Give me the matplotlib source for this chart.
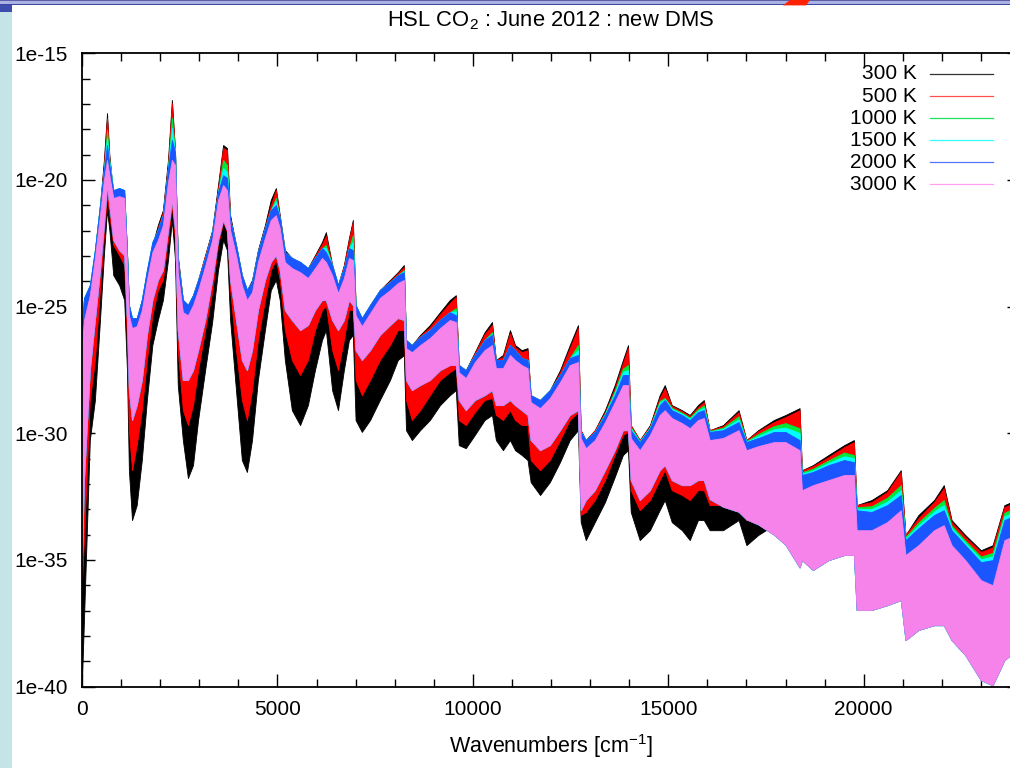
import numpy as np
import matplotlib
matplotlib.use("Agg")
import matplotlib.pyplot as plt
from matplotlib.ticker import FixedLocator, FuncFormatter, MultipleLocator, NullFormatter
from matplotlib.patches import Rectangle, Polygon
from matplotlib.lines import Line2D

plt.rcParams['font.family'] = ['Liberation Sans', 'DejaVu Sans']
plt.rcParams['mathtext.fontset'] = 'custom'
plt.rcParams['mathtext.rm'] = 'Liberation Sans'
plt.rcParams['mathtext.it'] = 'Liberation Sans:italic'
plt.rcParams['mathtext.bf'] = 'Liberation Sans:bold'

# ---------------- data (log10 of intensity envelopes) ----------------
wavenumber = [0, 50, 200, 330, 460, 560, 640, 700, 800, 950, 1080, 1150, 1200, 1280, 1400, 1530, 1660, 1800,
              1940, 2070, 2200, 2300, 2380, 2450, 2580, 2710, 2840, 2970, 3150, 3330, 3480, 3610, 3710, 3790,
              3940, 4090, 4220, 4350, 4500, 4680, 4830, 4960, 5060, 5190, 5370, 5580, 5780, 5960, 6140, 6240,
              6400, 6550, 6700, 6830, 6930, 7000, 7160, 7370, 7620, 7880, 8080, 8235, 8290, 8440, 8650, 8900,
              9160, 9410, 9565, 9640, 9820, 10050, 10300, 10490, 10590, 10770, 10950, 11080, 11250, 11400,
              11480, 11720, 11970, 12230, 12480, 12690, 12760, 12890, 13120, 13380, 13630, 13840, 13970, 14040,
              14270, 14530, 14780, 14910, 15090, 15350, 15550, 15760, 15910, 16060, 16400, 16800, 17000, 17300,
              17700, 18000, 18360, 18420, 18700, 19100, 19500, 19750, 19820, 20200, 20600, 20950, 21070, 21400,
              21800, 22050, 22250, 22600, 23000, 23300, 23600, 23900]

black_hi = [-25.93, -24.74, -24.35, -22.77, -20.99, -19.21, -17.36, -19.02, -20.60, -20.50, -20.55, -22.77, -24.94,
            -25.53, -25.53, -24.74, -23.64, -22.57, -21.78, -21.19, -19.21, -16.84, -18.82, -22.97, -24.74, -24.94,
            -24.55, -23.95, -22.97, -21.98, -20.20, -18.62, -18.74, -21.39, -22.57, -23.76, -24.35, -23.95, -22.77,
            -21.78, -20.79, -20.32, -21.39, -22.77, -23.08, -23.24, -23.48, -22.97, -22.45, -22.06, -23.36, -24.15,
            -23.36, -22.29, -21.58, -24.94, -25.53, -24.94, -24.35, -23.95, -23.64, -23.36, -26.32, -26.52, -26.12,
            -25.73, -25.22, -24.74, -24.55, -27.31, -27.51, -26.80, -26.01, -25.61, -27.11, -26.91, -25.93, -26.52,
            -26.72, -26.64, -28.50, -28.69, -28.30, -27.51, -26.52, -25.73, -29.88, -30.27, -29.88, -29.09, -28.10,
            -27.11, -26.52, -29.68, -30.27, -29.68, -28.50, -28.10, -28.89, -29.09, -29.28, -28.89, -28.69, -29.88,
            -29.68, -29.09, -30.27, -29.88, -29.48, -29.28, -29.01, -31.46, -31.26, -30.86, -30.47, -30.27, -32.84,
            -32.64, -32.25, -31.46, -34.02, -33.23, -32.64, -32.05, -33.43, -34.02, -34.62, -34.42, -32.84, -32.64]

red_hi = [-26.12, -24.82, -24.43, -22.85, -21.07, -19.41, -17.55, -19.13, -20.55, -20.45, -20.50, -22.85, -24.94,
          -25.53, -25.53, -24.74, -23.64, -22.57, -21.90, -21.27, -19.41, -16.96, -18.90, -23.08, -24.74, -24.94,
          -24.55, -23.95, -22.97, -22.06, -20.32, -18.74, -18.82, -21.50, -22.57, -23.76, -24.35, -24.03, -22.85,
          -21.86, -20.99, -20.40, -21.46, -22.85, -23.08, -23.24, -23.48, -23.01, -22.53, -22.21, -23.36, -24.15,
          -23.40, -22.37, -21.66, -24.94, -25.53, -24.94, -24.35, -23.99, -23.68, -23.44, -26.32, -26.52, -26.16,
          -25.81, -25.30, -24.86, -24.62, -27.31, -27.51, -26.84, -26.09, -25.73, -27.11, -26.99, -26.05, -26.60,
          -26.80, -26.72, -28.50, -28.69, -28.34, -27.59, -26.64, -25.85, -29.88, -30.27, -29.88, -29.17, -28.22,
          -27.23, -26.64, -29.68, -30.27, -29.72, -28.61, -28.22, -28.93, -29.13, -29.32, -28.97, -28.77, -29.88,
          -29.72, -29.17, -30.27, -29.92, -29.56, -29.36, -29.09, -31.46, -31.30, -30.94, -30.55, -30.35, -32.84,
          -32.72, -32.32, -31.53, -34.02, -33.35, -32.72, -32.17, -33.51, -34.10, -34.69, -34.50, -32.92, -32.72]

green_hi = [-25.73, -24.66, -24.15, -22.77, -20.99, -19.61, -18.03, -19.21, -20.40, -20.32, -20.40, -22.85, -24.94,
            -25.45, -25.45, -24.74, -23.56, -22.45, -21.98, -21.39, -19.53, -17.55, -18.90, -23.16, -24.74, -24.94,
            -24.55, -23.95, -23.08, -22.06, -20.48, -19.21, -19.41, -21.58, -22.57, -23.76, -24.35, -24.03, -22.85,
            -21.90, -21.19, -20.71, -21.50, -22.85, -23.08, -23.24, -23.48, -23.08, -22.69, -22.57, -23.36, -24.15,
            -23.48, -22.69, -22.18, -24.94, -25.45, -24.94, -24.35, -24.03, -23.76, -23.56, -26.32, -26.52, -26.20,
            -25.93, -25.53, -25.22, -25.06, -27.31, -27.51, -26.91, -26.32, -26.01, -27.11, -27.11, -26.52, -26.72,
            -27.03, -27.11, -28.50, -28.69, -28.30, -27.70, -27.03, -26.52, -29.95, -30.27, -29.95, -29.22, -28.32,
            -27.45, -27.31, -29.75, -30.31, -29.76, -28.72, -28.61, -28.99, -29.19, -29.38, -29.05, -28.90, -29.91,
            -29.78, -29.33, -30.31, -30.03, -29.72, -29.60, -29.80, -31.54, -31.40, -31.07, -30.76, -30.86, -32.92,
            -32.88, -32.55, -32.05, -34.10, -33.52, -32.95, -32.64, -33.65, -34.24, -34.87, -34.72, -33.14, -32.94]

cyan_hi = [-25.73, -24.66, -24.15, -22.77, -20.99, -19.61, -18.34, -19.29, -20.40, -20.32, -20.40, -22.85, -24.94,
           -25.45, -25.45, -24.74, -23.56, -22.45, -21.98, -21.39, -19.53, -17.95, -18.90, -23.16, -24.74, -24.94,
           -24.55, -23.95, -23.08, -22.06, -20.48, -19.53, -19.69, -21.58, -22.57, -23.76, -24.35, -24.03, -22.85,
           -21.90, -21.19, -20.83, -21.50, -22.85, -23.08, -23.24, -23.48, -23.08, -22.69, -22.69, -23.36, -24.15,
           -23.48, -22.69, -22.45, -24.94, -25.45, -24.94, -24.35, -24.03, -23.76, -23.60, -26.32, -26.52, -26.20,
           -25.93, -25.53, -25.22, -25.18, -27.31, -27.51, -26.91, -26.32, -26.09, -27.11, -27.11, -26.52, -26.72,
           -27.03, -27.11, -28.50, -28.69, -28.30, -27.70, -27.03, -26.72, -29.95, -30.27, -29.95, -29.25, -28.40,
           -27.58, -27.51, -29.82, -30.33, -29.78, -28.80, -28.65, -29.04, -29.23, -29.43, -29.11, -29.00, -29.93,
           -29.83, -29.45, -30.33, -30.11, -29.84, -29.78, -29.99, -31.60, -31.47, -31.17, -30.91, -30.98, -32.98,
           -33.00, -32.70, -32.25, -34.16, -33.64, -33.09, -32.84, -33.74, -34.33, -34.98, -34.86, -33.28, -33.08]

blue_hi = [-25.73, -24.66, -24.15, -22.77, -20.99, -19.61, -18.62, -19.41, -20.40, -20.32, -20.40, -22.85, -24.94,
           -25.45, -25.45, -24.74, -23.56, -22.45, -21.98, -21.39, -19.53, -18.42, -18.90, -23.16, -24.74, -24.94,
           -24.55, -23.95, -23.08, -22.06, -20.48, -19.81, -19.92, -21.58, -22.57, -23.76, -24.35, -24.03, -22.85,
           -21.90, -21.19, -20.99, -21.50, -22.85, -23.08, -23.24, -23.48, -23.08, -22.69, -22.85, -23.36, -24.15,
           -23.48, -22.69, -22.77, -24.94, -25.45, -24.94, -24.35, -24.03, -23.76, -23.64, -26.32, -26.52, -26.20,
           -25.93, -25.53, -25.22, -25.34, -27.31, -27.51, -26.91, -26.32, -26.12, -27.11, -27.11, -26.52, -26.72,
           -27.03, -27.11, -28.50, -28.69, -28.30, -27.70, -27.03, -26.91, -29.95, -30.27, -29.95, -29.28, -28.50,
           -27.70, -27.70, -29.88, -30.35, -29.80, -28.89, -28.69, -29.09, -29.28, -29.48, -29.17, -29.09, -29.95,
           -29.88, -29.56, -30.35, -30.19, -29.95, -29.95, -30.27, -31.65, -31.53, -31.26, -31.06, -31.14, -33.04,
           -33.11, -32.84, -32.44, -34.22, -33.75, -33.23, -33.04, -33.83, -34.42, -35.09, -35.01, -33.43, -33.23]

pink_hi = [-26.52, -25.53, -24.55, -23.08, -21.39, -20.00, -19.21, -19.81, -20.71, -20.64, -20.71, -23.24, -25.34,
           -25.85, -25.77, -25.14, -23.95, -22.85, -22.37, -21.78, -20.08, -19.21, -19.41, -23.64, -25.22, -25.34,
           -24.94, -24.35, -23.40, -22.37, -20.79, -20.20, -20.40, -21.98, -22.97, -24.15, -24.74, -24.43, -23.24,
           -22.29, -21.58, -21.39, -21.90, -23.24, -23.48, -23.64, -23.87, -23.48, -23.08, -23.24, -23.76, -24.47,
           -23.87, -23.08, -23.16, -25.34, -25.77, -25.26, -24.66, -24.35, -24.07, -23.95, -26.64, -26.80, -26.52,
           -26.24, -25.85, -25.53, -25.61, -27.59, -27.82, -27.19, -26.72, -26.52, -27.43, -27.43, -26.91, -27.11,
           -27.31, -27.43, -28.77, -29.01, -28.61, -27.98, -27.31, -27.19, -30.19, -30.59, -30.27, -29.56, -28.77,
           -28.10, -28.10, -30.19, -30.67, -30.07, -29.28, -29.09, -29.40, -29.60, -29.80, -29.48, -29.40, -30.27,
           -30.19, -29.88, -30.67, -30.51, -30.35, -30.35, -30.67, -32.25, -32.05, -31.85, -31.65, -31.65, -33.83,
           -33.83, -33.51, -33.04, -34.81, -34.42, -33.83, -33.63, -34.42, -35.01, -35.80, -36.00, -34.22, -34.02]

pink_lo = [-35.01, -31.85, -27.51, -25.53, -23.56, -21.78, -20.20, -20.99, -22.37, -22.77, -22.97, -25.53, -28.30,
           -29.48, -28.89, -27.90, -26.12, -24.74, -23.95, -23.56, -21.98, -20.79, -21.98, -25.93, -27.90, -27.90,
           -27.51, -26.72, -25.53, -23.95, -22.37, -21.58, -21.98, -23.95, -25.53, -27.11, -27.51, -26.72, -25.14,
           -23.95, -23.24, -22.97, -23.56, -25.14, -25.53, -25.93, -25.73, -25.14, -24.74, -24.74, -25.53, -25.93,
           -25.53, -24.74, -24.94, -26.72, -27.11, -26.72, -26.12, -25.73, -25.45, -25.53, -27.90, -28.30, -28.10,
           -27.90, -27.51, -27.31, -27.31, -28.69, -29.09, -28.69, -28.50, -28.30, -28.89, -28.89, -28.69, -28.89,
           -29.09, -29.28, -30.27, -30.67, -30.47, -29.88, -29.28, -29.09, -33.04, -32.64, -32.25, -31.46, -30.67,
           -29.88, -29.88, -31.85, -32.64, -32.25, -31.46, -31.26, -31.85, -32.05, -32.05, -31.85, -31.85, -32.60,
           -32.90, -33.10, -33.40, -33.60, -34.00, -34.40, -35.30, -35.01, -35.40, -35.01, -34.81, -34.81, -36.98,
           -36.98, -36.79, -36.59, -38.17, -37.77, -37.58, -37.58, -38.17, -38.76, -39.75, -39.95, -38.96, -38.57]

red_lo = [-35.80, -34.22, -28.69, -27.11, -24.35, -22.18, -20.60, -21.39, -22.57, -22.97, -23.36, -26.32, -29.88,
          -31.46, -30.47, -29.09, -27.11, -25.34, -24.35, -23.95, -22.37, -20.99, -22.37, -26.72, -29.09, -29.68,
          -28.89, -27.51, -25.93, -24.43, -22.57, -21.66, -22.06, -24.35, -26.72, -28.69, -29.48, -28.30, -26.32,
          -24.74, -23.56, -23.16, -23.95, -25.93, -27.11, -27.70, -27.11, -25.93, -25.14, -24.94, -26.72, -27.51,
          -26.32, -25.14, -25.14, -27.90, -28.50, -27.90, -27.11, -26.52, -25.93, -25.93, -28.69, -29.48, -29.09,
          -28.50, -27.90, -27.59, -27.43, -29.48, -29.68, -29.17, -28.69, -28.61, -29.28, -29.48, -29.09, -29.48,
          -29.68, -29.68, -31.06, -31.46, -31.06, -30.27, -29.48, -29.17, -33.23, -33.11, -32.64, -31.85, -30.86,
          -30.07, -29.95, -32.25, -33.04, -32.64, -31.85, -31.46, -32.25, -32.44, -32.64, -32.25, -32.25, -32.84,
          -32.84, -32.64, -33.43, -33.23, -33.04, -33.04, -32.84, -35.01, -35.01, -34.81, -34.62, -34.62, -36.59,
          -36.59, -36.39, -36.19, -37.38, -37.18, -36.98, -36.98, -37.58, -38.17, -38.96, -39.16, -38.17, -37.78]

black_lo = [-39.75, -37.38, -30.27, -28.69, -25.53, -22.97, -21.19, -21.98, -23.76, -24.15, -24.74, -27.51, -31.46,
            -33.43, -32.84, -31.06, -28.69, -26.52, -25.53, -24.74, -23.16, -21.58, -23.16, -28.10, -30.27, -31.77,
            -31.26, -29.48, -27.51, -25.61, -23.56, -22.37, -22.77, -25.53, -28.30, -31.06, -31.53, -30.27, -27.90,
            -25.93, -24.35, -23.95, -24.74, -27.11, -29.09, -29.68, -28.89, -27.51, -26.32, -25.93, -28.30, -29.09,
            -27.51, -26.32, -26.12, -29.48, -29.95, -29.48, -28.69, -27.90, -27.11, -26.92, -29.88, -30.27, -29.88,
            -29.48, -28.89, -28.50, -28.30, -30.47, -30.59, -30.07, -29.48, -29.28, -30.27, -30.67, -30.27, -30.67,
            -30.86, -31.06, -31.93, -32.44, -31.93, -31.14, -30.27, -29.88, -33.51, -34.22, -33.51, -32.72, -31.73,
            -30.86, -30.67, -33.11, -34.22, -33.83, -33.04, -32.64, -33.51, -33.83, -34.22, -33.43, -33.43, -33.83,
            -33.83, -33.43, -34.42, -34.02, -33.63, -33.63, -33.43, -35.01, -35.01, -34.81, -34.62, -34.62, -36.59,
            -36.59, -36.39, -36.19, -37.38, -37.18, -36.98, -36.98, -37.58, -38.17, -38.96, -39.16, -38.17, -37.78]

temperatures = ["300 K", "500 K", "1000 K", "1500 K", "2000 K", "3000 K"]
colors = ["#000000", "#ff0000", "#00e83a", "#00ffff", "#1a55ff", "#f683ea"]
legend_colors = ["#333333", "#ff5050", "#20e060", "#30ffff", "#5577ff", "#ffa0f4"]

title = "HSL CO$_2$ : June 2012 : new DMS"
xlabel = "Wavenumbers [cm$^{-1}$]"
ytick_exponents = [-15, -20, -25, -30, -35, -40]

# ---------------- figure ----------------
W, H = 1010, 768
fig = plt.figure(figsize=(W / 100, H / 100), dpi=100, facecolor="white")
ax_left, ax_right, ax_top, ax_bottom = 82, 1020, 53.3, 686.5
ax = fig.add_axes([ax_left / W, 1 - ax_bottom / H, (ax_right - ax_left) / W, (ax_bottom - ax_top) / H])

x = np.array(wavenumber, dtype=float)
def v(a):
    return 10.0 ** np.array(a, dtype=float)

layers = [
    (black_lo, black_hi), (red_lo, red_hi), (pink_lo, green_hi),
    (pink_lo, cyan_hi), (pink_lo, blue_hi), (pink_lo, pink_hi),
]
for (lo, hi), c in zip(layers, colors):
    ax.fill_between(x, v(lo), v(hi), color=c, linewidth=0.6, edgecolor=c, zorder=2)

ax.set_yscale("log")
ax.set_xlim(0, 24000)
ax.set_ylim(1e-40, 1e-15)

ax.yaxis.set_major_locator(FixedLocator([10.0 ** e for e in ytick_exponents]))
ax.yaxis.set_minor_locator(FixedLocator([10.0 ** e for e in range(-40, -14)]))
ax.yaxis.set_major_formatter(FuncFormatter(lambda val, pos: "1e%d" % round(np.log10(val))))
ax.yaxis.set_minor_formatter(NullFormatter())
ax.xaxis.set_major_locator(MultipleLocator(5000))
ax.xaxis.set_minor_locator(MultipleLocator(1000))

ax.tick_params(which="both", direction="in", top=True, right=True, width=1.0, colors="black",
               labelsize=15)
ax.tick_params(which="major", length=9.4)
ax.tick_params(which="minor", length=5.8)
ax.tick_params(axis="y", which="major", pad=10.5)
ax.tick_params(axis="x", which="major", pad=10)
for s in ax.spines.values():
    s.set_linewidth(1.3)

ax.set_xlabel(xlabel, fontsize=15.5, labelpad=9)
fig.text(551 / W, 1 - 26 / H, title, fontsize=15.8, ha="center", va="baseline")

# legend (gnuplot style: text right-aligned, sample line to the right)
for i, (lab, c) in enumerate(zip(temperatures, legend_colors)):
    yy = 1 - (74 + 22 * i - ax_top) / (ax_bottom - ax_top)
    ax.text((917 - ax_left) / (ax_right - ax_left), yy, lab, transform=ax.transAxes,
            ha="right", va="center", fontsize=15, zorder=5)
    ax.add_line(Line2D([(930 - ax_left) / (ax_right - ax_left), (993 - ax_left) / (ax_right - ax_left)],
                       [yy, yy], transform=ax.transAxes, color=c, linewidth=0.9, zorder=5))

# screenshot frame decorations
def frect(x0, y0, x1, y1, color):
    fig.patches.append(Rectangle((x0 / W, 1 - y1 / H), (x1 - x0) / W, (y1 - y0) / H,
                                 transform=fig.transFigure, color=color, zorder=10, linewidth=0))
frect(0, 12, 12, H, "#c4e4e8")
frect(0, 5.3, 12, 12, "#3e4cae")
frect(0, 0, W, 1.4, "#5a5fa8")
frect(0, 1.4, W, 3.8, "#a9b2e2")
frect(0, 3.8, W, 5.4, "#3d45a5")
fig.patches.append(Polygon([(790 / W, 1.0), (810 / W, 1.0), (806 / W, 1 - 5.4 / H), (783 / W, 1 - 5.4 / H)],
                           closed=True, transform=fig.transFigure, color="#ff2200", zorder=11, linewidth=0))

fig.savefig("out.png", dpi=100, facecolor="white")
